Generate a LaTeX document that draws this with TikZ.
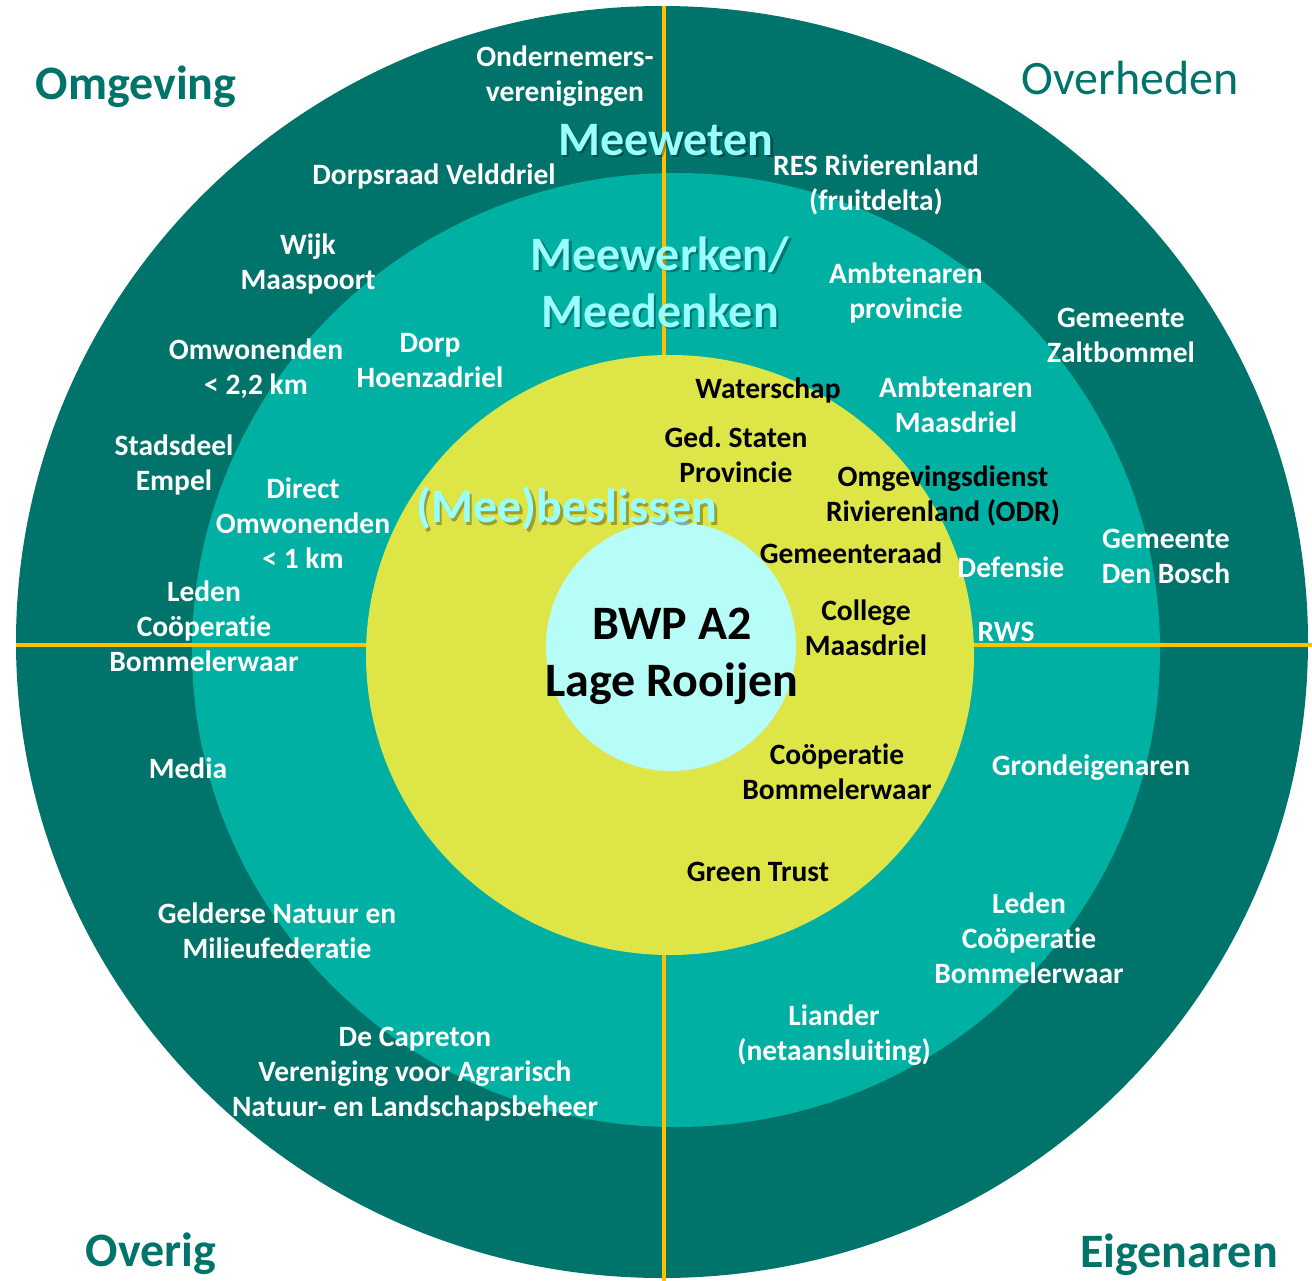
\documentclass[tikz,border=0pt]{standalone}
\usepackage{fontspec}
\setmainfont{Carlito}[Ligatures=NoCommon]
\usepackage{tikz}
\usetikzlibrary{positioning}
\definecolor{ringdark}{RGB}{0,116,106}
\definecolor{ringmid}{RGB}{0,176,163}
\definecolor{ringyellow}{RGB}{222,229,70}
\definecolor{corecyan}{RGB}{183,253,247}
\definecolor{axisorange}{RGB}{255,192,0}
\definecolor{levelcyan}{RGB}{153,255,255}

\begin{document}
\begin{tikzpicture}[
  x=1pt, y=-1pt,
  lbl/.style={font=\fontsize{29.5}{35}\selectfont\bfseries, text=white, align=center,
    inner sep=0pt, text height=19pt, text depth=0pt},
  blk/.style={lbl, text=black},
  level/.style={font=\fontsize{48}{57}\selectfont\bfseries, text=levelcyan, align=center,
    inner sep=0pt, text height=31pt, text depth=0pt},
  levelshadow/.style={level, text=black, text opacity=0.3},
  corner/.style={font=\fontsize{48}{58}\selectfont\bfseries, text=ringdark,
    inner sep=0pt, text height=31pt, text depth=0pt},
  axisline/.style={draw=axisorange, line width=4pt}
]
\useasboundingbox (0,0) rectangle (1312,1281);

% Rings
\fill[ringdark] (662,642) ellipse [x radius=646, y radius=636];
\fill[ringmid] (676,650) ellipse [x radius=484, y radius=477];
\draw[axisline] (664,6) -- (664,1281);
\draw[axisline] (16,645) -- (1312,645);
\fill[ringyellow] (670,655) ellipse [x radius=304, y radius=300];
\fill[corecyan] (671,646) circle [radius=125];

% Corner titles
\node[corner] (omgeving) at (136,84) {Omgeving};
\node[corner, font=\fontsize{48}{58}\selectfont] (overheden) at (1130,79) {Overheden};
\node[corner] (overig) at (151,1251) {Overig};
\node[corner] (eigenaren) at (1179,1252) {Eigenaren};

% Levels (placed at last line)
\node[levelshadow] (meeweten-sh) at (668.5,142.5) {Meeweten};
\node[level] (meeweten) at (666,140) {Meeweten};
\node[levelshadow] (meewerken-sh) at (662.5,314.5) {Meewerken/\\Meedenken};
\node[level] (meewerken) at (660,312) {Meewerken/\\Meedenken};
\node[levelshadow] (beslissen-sh) at (569.5,509.5) {(Mee)beslissen};
\node[level] (beslissen) at (567,507) {(Mee)beslissen};
\node[level, text=black] (project) at (672,681) {BWP A2\\Lage Rooijen};

% Outer ring
\node[lbl] (ondernemers) at (565,92) {Ondernemers-\\verenigingen};
\node[lbl] (dorpsraad) at (434,175) {Dorpsraad Velddriel};
\node[lbl] (maaspoort) at (308,280) {Wijk\\Maaspoort};
\node[lbl] (omwonenden) at (256,385) {Omwonenden\\< 2,2 km};
\node[lbl] (empel) at (174,481) {Stadsdeel\\Empel};
\node[lbl] (leden-w) at (204,662) {Leden\\Coöperatie\\Bommelerwaar};
\node[lbl] (media) at (188,769) {Media};
\node[lbl] (gnmf) at (277,949) {Gelderse Natuur en\\Milieufederatie};
\node[lbl] (capreton) at (415,1107) {De Capreton\\Vereniging voor Agrarisch\\Natuur- en Landschapsbeheer};
\node[lbl] (res) at (876,201) {RES Rivierenland\\(fruitdelta)};
\node[lbl] (zaltbommel) at (1121,353) {Gemeente\\Zaltbommel};
\node[lbl] (denbosch) at (1166,574) {Gemeente\\Den Bosch};
\node[lbl] (grond) at (1091,766) {Grondeigenaren};
\node[lbl] (leden-o) at (1029,974) {Leden\\Coöperatie\\Bommelerwaar};
\node[lbl] (liander) at (834,1051) {Liander\\(netaansluiting)};

% Middle ring
\node[lbl] (hoenzadriel) at (430,378) {Dorp\\Hoenzadriel};
\node[lbl] (direct) at (303,559) {Direct\\Omwonenden\\< 1 km};
\node[lbl] (amb-prov) at (906,309) {Ambtenaren\\provincie};
\node[lbl] (amb-maas) at (956,423) {Ambtenaren\\Maasdriel};
\node[lbl] (defensie) at (1011,568) {Defensie};
\node[lbl] (rws) at (1006,632) {RWS};

% Inner ring
\node[blk] (waterschap) at (768,389) {Waterschap};
\node[blk] (gedstaten) at (736,473) {Ged.\ Staten\\Provincie};
\node[blk] (odr) at (943,512) {Omgevingsdienst\\Rivierenland (ODR)};
\node[blk] (raad) at (851,554) {Gemeenteraad};
\node[blk] (college) at (866,646) {College\\Maasdriel};
\node[blk] (cooperatie) at (837,790) {Coöperatie\\Bommelerwaar};
\node[blk] (greentrust) at (758,872) {Green Trust};

\end{tikzpicture}
\end{document}
